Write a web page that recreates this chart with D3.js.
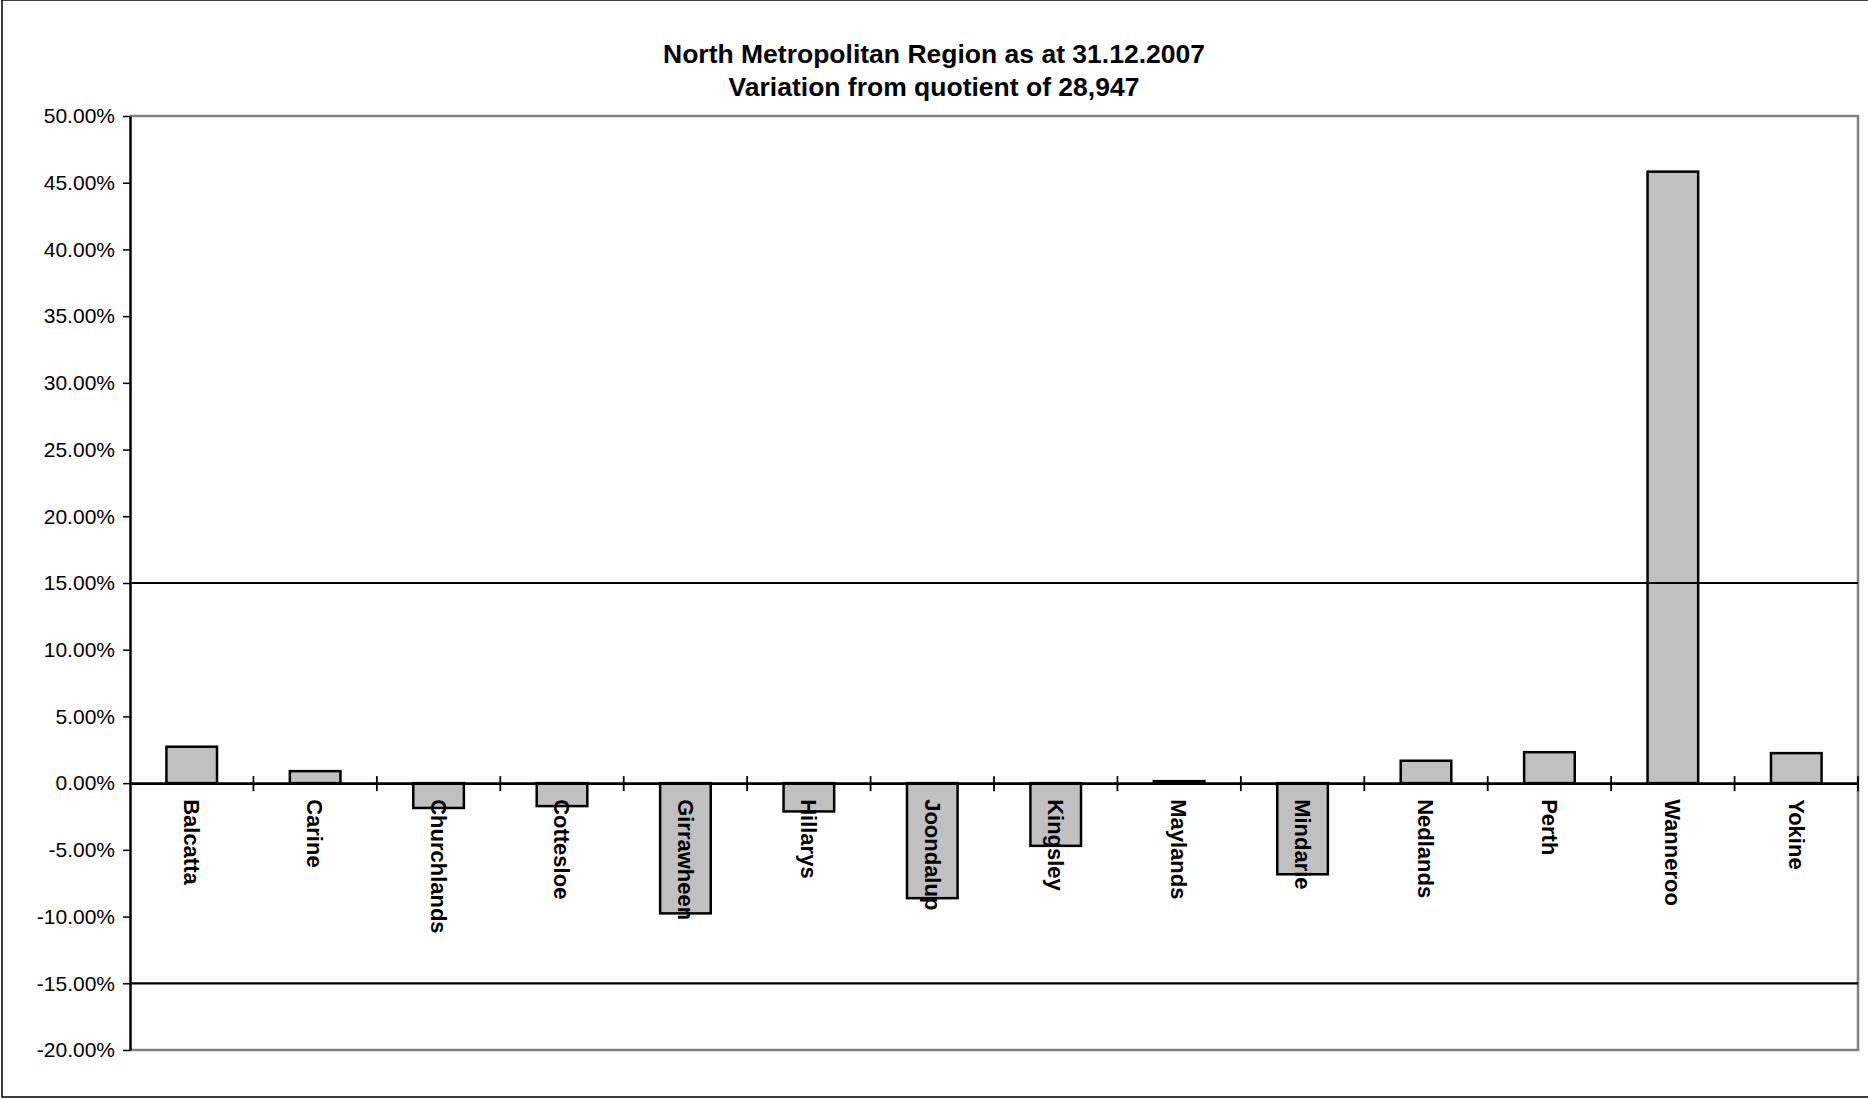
<!DOCTYPE html>
<html>
<head>
<meta charset="utf-8">
<script src="https://cdn.jsdelivr.net/npm/d3@7"></script>
<style>
    body { margin: 0; background: #fff; }
    text { font-family: Arial, "Liberation Sans", sans-serif; }
</style>
</head>
<body>
<script>
// electorates in the region
const electorates = ['Balcatta', 'Carine', 'Churchlands', 'Cottesloe', 'Girrawheen', 'Hillarys',
    'Joondalup', 'Kingsley', 'Maylands', 'Mindarie', 'Nedlands', 'Perth', 'Wanneroo', 'Yokine'];

// variation from quotient (fraction)
const variation = [0.0273, 0.0090, -0.0186, -0.0172, -0.0976, -0.0212,
    -0.0862, -0.0470, 0.0015, -0.0683, 0.0168, 0.0232, 0.4583, 0.0225];

// +/- 15% tolerance lines
const limitLines = [0.15, -0.15];

// y axis tick values
const yTicks = [-0.20, -0.15, -0.10, -0.05, 0, 0.05, 0.10, 0.15, 0.20, 0.25, 0.30, 0.35, 0.40, 0.45, 0.50];

const titleLines = ['North Metropolitan Region as at 31.12.2007', 'Variation from quotient of 28,947'];

const w = 1868;
const h = 1099;

// plot area
const margin = { top: 116, right: 10, bottom: 49, left: 130 };
const innerWidth = w - margin.left - margin.right;
const innerHeight = h - margin.top - margin.bottom;

const svg = d3.select('body')
    .append('svg')
    .attr('width', w)
    .attr('height', h);

// outer chart border (right side runs off the page)
svg.append('rect')
    .attr('x', 2)
    .attr('y', 0)
    .attr('width', w + 10)
    .attr('height', h - 2)
    .attr('fill', 'none')
    .attr('stroke', '#000')
    .attr('stroke-width', 1.5);

// title
svg.append('g')
    .selectAll('text')
    .data(titleLines)
    .enter()
    .append('text')
    .attr('x', w / 2)
    .attr('y', (d, i) => 63 + i * 33)
    .attr('text-anchor', 'middle')
    .style('font-weight', 'bold')
    .style('font-size', '26.5px')
    .text(d => d);

const xScale = d3.scaleBand()
    .domain(electorates)
    .range([0, innerWidth])
    .padding(0);

const yScale = d3.scaleLinear()
    .domain([-0.20, 0.50])
    .range([innerHeight, 0]);

const fmt = d3.formatLocale({ decimal: '.', thousands: ',', grouping: [3], currency: ['$', ''], minus: '-' }).format('.2%');

const g = svg.append('g')
    .attr('transform', `translate(${margin.left},${margin.top})`);

// grey plot border: top, right, bottom
g.append('path')
    .attr('d', `M0,0H${innerWidth}V${innerHeight}H0`)
    .attr('fill', 'none')
    .attr('stroke', '#808080')
    .attr('stroke-width', 2.5);

// bars
const barW = xScale.bandwidth() * 0.41;
g.selectAll('rect.bar')
    .data(variation)
    .enter()
    .append('rect')
    .attr('class', 'bar')
    .attr('x', (d, i) => xScale(electorates[i]) + (xScale.bandwidth() - barW) / 2)
    .attr('y', d => yScale(Math.max(0, d)))
    .attr('width', barW)
    .attr('height', d => Math.abs(yScale(d) - yScale(0)))
    .attr('fill', '#c0c0c0')
    .attr('stroke', '#000')
    .attr('stroke-width', 2.5);

// tolerance lines
g.selectAll('line.limit')
    .data(limitLines)
    .enter()
    .append('line')
    .attr('class', 'limit')
    .attr('x1', 0)
    .attr('x2', innerWidth)
    .attr('y1', d => yScale(d))
    .attr('y2', d => yScale(d))
    .attr('stroke', '#000')
    .attr('stroke-width', 2.2);

// y axis
const yAxisG = g.append('g')
    .attr('id', 'y-axis')
    .call(d3.axisLeft(yScale).tickValues(yTicks).tickFormat(fmt).tickSize(7).tickPadding(8).tickSizeOuter(0));

yAxisG.select('.domain').attr('stroke', '#000').attr('stroke-width', 2.5);
yAxisG.selectAll('.tick line').attr('stroke-width', 1.5);
yAxisG.selectAll('.tick text')
    .style('font-size', '21px')
    .attr('fill', '#000');

// x axis at zero, labels rotated downwards
const xAxisG = g.append('g')
    .attr('id', 'x-axis')
    .attr('transform', `translate(0,${yScale(0)})`)
    .call(d3.axisBottom(xScale).tickSize(0).tickSizeOuter(0));

xAxisG.select('.domain').attr('stroke', '#000').attr('stroke-width', 2.8);
xAxisG.selectAll('.tick text')
    .attr('y', 0)
    .attr('x', 16)
    .attr('dy', '0.35em')
    .attr('transform', 'rotate(90)')
    .style('text-anchor', 'start')
    .style('font-weight', 'bold')
    .style('font-size', '22px')
    .attr('fill', '#000');

// cross tick marks between categories
const boundaries = electorates.slice(1).map(d => xScale(d)).concat([innerWidth]);
xAxisG.selectAll('line.cross')
    .data(boundaries)
    .enter()
    .append('line')
    .attr('class', 'cross')
    .attr('x1', d => d)
    .attr('x2', d => d)
    .attr('y1', -7)
    .attr('y2', 8)
    .attr('stroke', '#000')
    .attr('stroke-width', 1.8);
</script>
</body>
</html>
